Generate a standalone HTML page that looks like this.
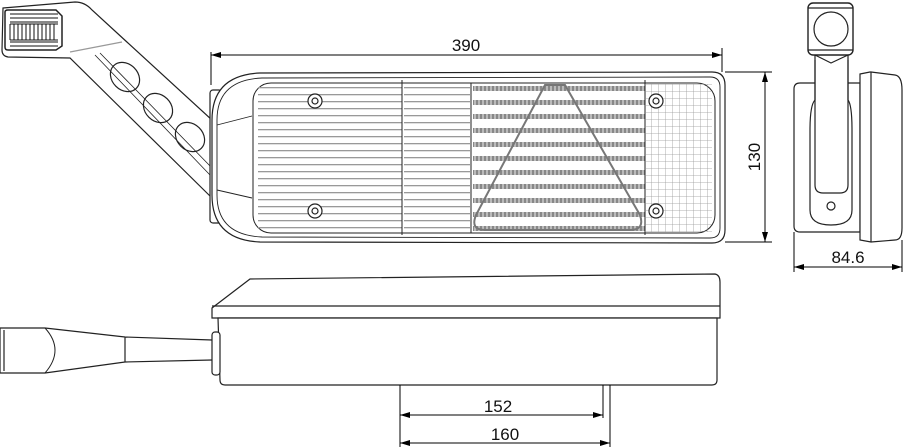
<!DOCTYPE html>
<html><head><meta charset="utf-8"><style>
html,body{margin:0;padding:0;background:#fff;}
svg{display:block;font-family:"Liberation Sans",sans-serif;}
</style></head><body>
<svg width="906" height="447" viewBox="0 0 906 447" xmlns="http://www.w3.org/2000/svg">
<defs>
<marker id="a" viewBox="0 0 10 6" refX="10" refY="3" markerWidth="10" markerHeight="6" orient="auto-start-reverse" markerUnits="userSpaceOnUse"><path d="M0,0L10,3L0,6z" fill="#000"/></marker>
<pattern id="hl" width="4" height="7" patternUnits="userSpaceOnUse"><rect width="4" height="1.3" y="3" fill="#999"/></pattern>
<pattern id="dots" width="4" height="14" patternUnits="userSpaceOnUse"><rect width="4" height="5" y="2" fill="#bbb"/><rect width="2" height="5" y="2" fill="#888"/></pattern>
<pattern id="grid" width="7" height="7" patternUnits="userSpaceOnUse"><path d="M0,0H7M0,0V7" stroke="#999" stroke-width="0.8" fill="none"/></pattern>
</defs>
<g fill="none" stroke="#222" stroke-width="1.2">
<!-- arm -->
<path d="M3,8 L75,2 Q85,2 92,10 L212,120 L212,198 L70,58 L8,57 Q2,56 2,50 Z" fill="#fff"/>
<path d="M5,12 Q5,10 8,10 L56,10 L62,16 L62,46 L56,50 L8,50 Q5,50 5,47 Z" stroke-width="1.5"/>
<g stroke="#111" stroke-width="1"><path d="M10,14H58M10,18H58M10,22H58M10,42H58M10,46H58M10,24V40M14,24V40M18,24V40M22,24V40M26,24V40M30,24V40M34,24V40M38,24V40M42,24V40M46,24V40M50,24V40M54,24V40M10,24H58M10,40H58"/></g>
<path d="M70,52 L122,42" stroke="#999"/>
<path d="M95,55 L210,175 M100,53 L212,168" stroke-width="0.8"/>
<ellipse cx="125" cy="77" rx="13" ry="16" transform="rotate(-45 125 77)"/>
<ellipse cx="158" cy="108" rx="13" ry="16" transform="rotate(-45 158 108)"/>
<ellipse cx="190" cy="137" rx="13" ry="16" transform="rotate(-45 190 137)"/>
<!-- front main -->
<rect x="210" y="90" width="12" height="133" rx="3" fill="#fff"/>
<path d="M260,73 L712,72 Q725,72 725,85 L725,230 Q725,243 712,243 L260,242 Q212,240 212,195 L212,120 Q212,75 260,73 Z" fill="#fff"/>
<path d="M262,78 L710,77 Q720,77 720,87 L720,228 Q720,238 710,238 L262,237 Q217,235 217,195 L217,120 Q217,80 262,78 Z" stroke-width="0.9"/>
<path d="M217,125 L252,116 M217,190 L252,198" stroke-width="0.9"/>
<rect x="253" y="83" width="462" height="150" rx="18" stroke-width="1"/>
<rect x="258" y="86" width="144" height="144" fill="url(#hl)" stroke="none"/>
<rect x="404" y="86" width="66" height="144" fill="url(#hl)" stroke="none"/>
<rect x="473" y="84" width="172" height="148" fill="url(#dots)" stroke="none"/>
<rect x="646" y="84" width="66" height="148" fill="url(#grid)" stroke="none"/>
<path d="M402,80 V235 M471,83 V233 M645,80 V235" stroke-width="1"/>
<path d="M545,85 L565,85 L640,215 Q645,230 630,230 L485,230 Q470,230 476,215 Z" stroke="#777" stroke-width="2"/>
<g fill="#fff"><circle cx="315" cy="101" r="7"/><circle cx="315" cy="211" r="7"/><circle cx="656" cy="101" r="7"/><circle cx="656" cy="211" r="7"/></g>
<circle cx="315" cy="101" r="3"/><circle cx="315" cy="211" r="3"/><circle cx="656" cy="101" r="3"/><circle cx="656" cy="211" r="3"/>
<!-- side view -->
<path d="M800,83 L860,83 L860,232 L800,232 Q794,232 794,226 L794,89 Q794,83 800,83 Z" fill="#fff"/>
<path d="M860,74 L870,72 L871,72 L895,75 Q902,76 902,90 L902,228 Q902,240 895,240 L871,242 L860,240 Z" fill="#fff"/>
<path d="M871,72 V242"/>
<path d="M815,55 V100 Q810,105 810,130 V210 Q810,225 831,225 Q852,225 852,210 V130 Q852,105 848,100 V55" fill="#fff"/>
<path d="M815,60 V185 Q815,193 823,193 L840,193 Q848,193 848,185 V60"/>
<rect x="808" y="3" width="45" height="52" rx="5" fill="#fff" stroke-width="1.4"/>
<path d="M808,8 H853 M808,50 H853"/>
<path d="M815,55 L831,63 L848,55"/>
<circle cx="831" cy="29" r="17"/>
<circle cx="831" cy="206" r="4"/>
<!-- bottom view -->
<path d="M212,308 L250,279 L715,274 Q720,275 720,282 L720,318 L212,318 Z" fill="#fff"/>
<path d="M212,306 L720,306"/>
<path d="M218,318 L717,318 L717,380 Q717,385 712,385 L225,385 Q220,385 220,380 Z" fill="#fff"/>
<rect x="212" y="332" width="8" height="43" rx="3" fill="#fff"/>
<path d="M0,328 L45,328 L125,337 L212,340 M0,373 L45,373 L125,362 L212,360 M0,328 V373 M4,330 V371 M125,337 V362" stroke-width="1.2"/>
<path d="M45,328 Q65,350 45,373" stroke-width="1"/>
<!-- dims -->
<g stroke="#000" stroke-width="1">
<path d="M211,85 V52 M722,72 V48" />
<path d="M211,55 L722,55" marker-start="url(#a)" marker-end="url(#a)"/>
<path d="M725,72 H772 M725,242 H772"/>
<path d="M765,72 V242" marker-start="url(#a)" marker-end="url(#a)"/>
<path d="M794,232 V272 M902,240 V272"/>
<path d="M794,267 H902" marker-start="url(#a)" marker-end="url(#a)"/>
<path d="M400,385 V447 M603,385 V418 M610,385 V447"/>
<path d="M400,415 H603" marker-start="url(#a)" marker-end="url(#a)"/>
<path d="M400,443 H610" marker-start="url(#a)" marker-end="url(#a)"/>
</g>
</g>
<g font-size="17" fill="#111">
<text x="466" y="51" text-anchor="middle">390</text>
<text x="848" y="263" text-anchor="middle">84.6</text>
<text x="498" y="412" text-anchor="middle">152</text>
<text x="505" y="440" text-anchor="middle">160</text>
<text transform="translate(760,157) rotate(-90)" text-anchor="middle">130</text>
</g>
</svg>
</body></html>
